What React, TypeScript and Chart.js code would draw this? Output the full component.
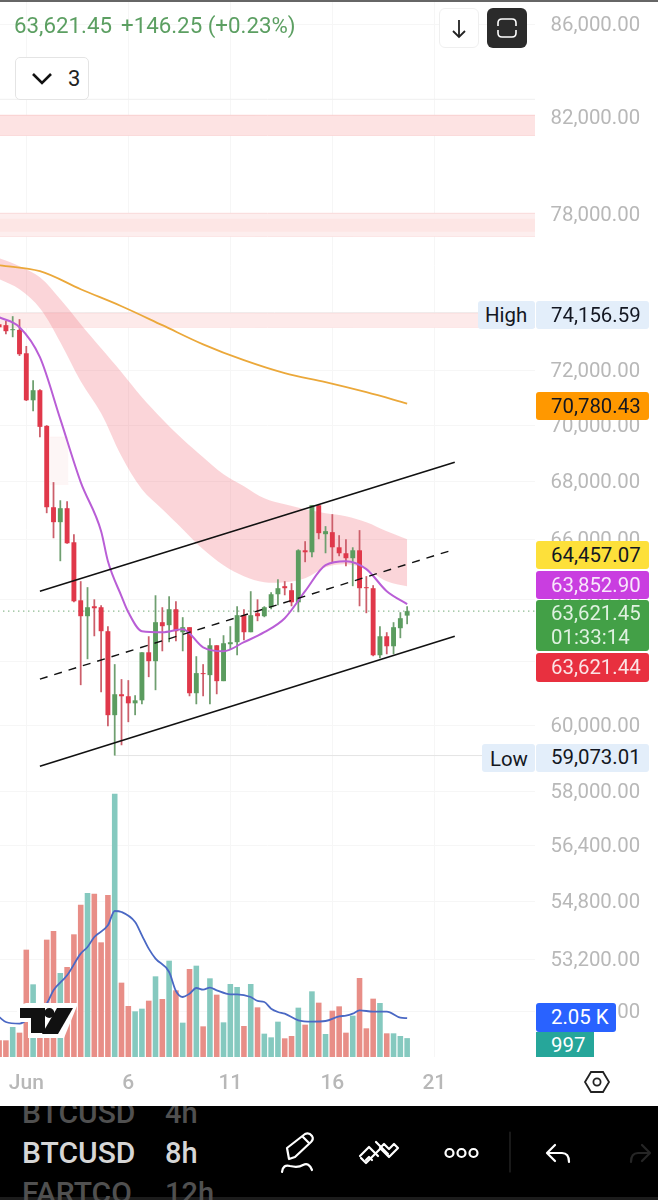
import React, { useEffect, useRef } from "react";
import { Chart, registerables } from "chart.js";

Chart.register(...registerables);

const firstCandle = -4;
const opens = [73725,73687,73497,73508,72631,70898,71266,69973,67109,66596,67075,65912,63976,63456,63781,63749,62969,60311,60963,60900,60680,60773,62291,62007,63261,63164,63684,62936,63099,60995,61628,61564,62516,61374,62549,62614,63489,62936,63554,63456,63749,64176,64442,64309,63911,65641,65574,67178,66186,66255,65742,65541,65374,65641,64409,64375,62196,62806,62484,63066,63475];
const highs = [73875,73850,74028,73914,72902,71635,71300,69998,67980,67349,67315,66186,64608,64409,64009,63814,63131,61912,61438,61406,60932,62291,62806,64142,63749,64109,63944,63424,63099,62165,61912,62744,62516,62839,63131,63781,63684,64276,64009,63781,64242,64675,64608,64542,65674,65948,67178,67212,66460,66870,66152,66016,65742,66324,64775,64475,63131,62936,63261,63586,63781];
const lows = [73497,73345,73232,72532,70873,70502,69566,66904,66049,65274,65860,63911,61248,62070,62806,61026,59972,59073,59387,60095,60311,60650,61501,61090,62323,62614,62646,62323,60900,60650,60900,60650,60963,61374,62386,62196,62679,62936,63294,63424,63684,63814,64142,63781,63586,65241,65408,66016,65541,65241,65441,65108,64442,63781,63554,62165,62102,62228,62228,62744,63196];
const closes = [73611,73459,73535,72595,70898,71266,69937,67109,66596,67075,65878,63944,63456,63749,63716,62969,60311,60963,60900,60680,60773,62291,62007,63261,63131,63684,62969,63099,60995,61628,61596,62516,61374,62581,62614,63489,62936,63489,63456,63749,64176,64375,64375,63911,65641,65574,67178,66221,66289,65742,65541,65374,65641,64375,64375,62196,62806,62484,63099,63391,63621.45];
const volumes = [880,880,1584,1285,5667,3837,2288,6195,6653,4435,4752,6477,8043,8659,8624,6054,8554,13904,3925,2693,2411,2552,2974,4259,3062,5086,3520,1813,4646,4822,1619,4154,3291,1830,3854,3696,1637,3854,2622,1232,1038,1866,986,1109,2605,1707,3467,2869,1214,2446,2675,1285,2182,4171,1514,3080,2851,1250,1250,1109,997];

const volumeAvgX = [-4,-3,-1,1,3,4,6,8,9,10,12,13,14,16,17,18,19,21,22,23,24,25,26,27,28,30,31,33,34,35,36,37,38,40,42,44,46,47,48,49,51,53,55,56];
const volumeAvg = [2112,1848,1760,2288,2816,3520,4312,5456,5808,6336,6952,7709,7656,7128,6424,5720,5192,4488,3485,3168,3344,3643,3555,3661,3520,3309,3309,3168,2957,2904,2552,2376,2288,1936,1866,1901,2147,2182,2288,2464,2394,2394,2077,2050];

const fastMaX = [-4,-1,2,5,8,11,12,14,15,17,20,23,26,29,32,35,38,41,44,47,50,53,56];
const fastMa = [73990,73611,72484,70214,67980,66289,65274,64109,63586,62969,62936,63034,62451,62323,62614,62936,63391,64276,65141,65274,65008,64276,63853];
const slowMaX = [-4,2,8,14,20,26,32,38,44,50,56];
const slowMa = [75993,75759,75059,74407,73687,72966,72373,71893,71561,71192,70780];
const ribbonX = [-4,-1,2,5,8,11,14,17,20,23,26,29,32,35,38,41,44,47,50,53,56];
const ribbonUpper = [76265,75954,75526,74672,73725,72816,71930,71008,70214,69495,68855,68258,67838,67418,67212,67041,66904,66802,66596,66289,66016];
const ribbonLower = [75448,75059,74331,73045,71598,70430,68890,67733,67041,66357,65674,65141,64775,64575,64575,64708,65074,65174,65008,64608,64442];

const channelX = [2, 63];
const channelUpper = [64276, 68680];
const channelMiddle = [61438, 65674];
const channelLower = [58750, 62806];

const zoneX = [-10, 80];
const zone1 = [82073, 81235];
const zone2Outer = [78044, 77128];
const zone2Inner = [77804, 77326];
const zone3 = [74137, 73606];
const smallBoxX = [3.5, 6.2];
const smallBox = [69566, 67910];

const lastPrice = 63621.45;
const highPrice = 74156.59;
const lowPrice = 59073.01;
const topRule = 82750;

const priceTicks = [86000,82000,78000,74000,72000,70000,68000,66000,64000,62000,60000,58000,56400,54800,53200,51800];
const timeTicks = [0, 15, 30, 45, 60];
const timeLabels = ["Jun", "6", "11", "16", "21"];

const FONT = "Roboto, sans-serif";
const UP = "#5b9c5f";
const DOWN = "#e0384a";
const UP_WICK = "#6f9f70";
const DOWN_WICK = "#cc5f6b";
const VOL_UP = "#85c9bf";
const VOL_DOWN = "#e88e87";

const line = (xs: number[], ys: number[]) => xs.map((x, k) => ({ x, y: ys[k] }));
const idx = (k: number) => firstCandle + k;

function App() {
  const ref = useRef<HTMLCanvasElement>(null);
  useEffect(() => {
    const wick = opens.map((_, k) => ({ x: idx(k), y: [lows[k], highs[k]] }));
    const body = opens.map((o, k) => ({ x: idx(k), y: [Math.min(o, closes[k]), Math.max(o, closes[k])] }));
    const up = opens.map((o, k) => closes[k] >= o);
    const lineBase = { type: "line", pointRadius: 0, yAxisID: "y" };
    const band = (xs: number[], pair: number[], fill: string, border: string, order: number) => [
      { ...lineBase, data: line(xs, [pair[0], pair[0]]), borderColor: border, borderWidth: 1, backgroundColor: fill, fill: "+1", order },
      { ...lineBase, data: line(xs, [pair[1], pair[1]]), borderColor: border, borderWidth: 1, fill: false, order },
    ];
    const chart = new Chart(ref.current!, {
      type: "bar",
      data: {
        datasets: [
          ...band(zoneX, zone1, "#fde3e3", "#f9cfcf", 40),
          ...band(zoneX, zone2Outer, "#fdeeee", "#f9dada", 41),
          ...band(zoneX, zone2Inner, "#fde6e5", "#fde6e5", 40),
          ...band(zoneX, zone3, "#fdeaea", "#fbe0e0", 41),
          ...band(smallBoxX, smallBox, "#fdf6f6", "#fdf1f1", 41),
          { ...lineBase, data: line(ribbonX, ribbonUpper), borderWidth: 0, borderColor: "transparent", backgroundColor: "rgba(240,110,125,0.29)", fill: "+1", tension: 0.35, order: 30 },
          { ...lineBase, data: line(ribbonX, ribbonLower), borderWidth: 0, borderColor: "transparent", fill: false, tension: 0.35, order: 30 },
          { ...lineBase, data: line(zoneX, [topRule, topRule]), borderColor: "#efefef", borderWidth: 1, order: 42 },
          { ...lineBase, data: line([-2, 80], [highPrice, highPrice]), borderColor: "#e8e8e8", borderWidth: 1, order: 42 },
          { ...lineBase, data: line([13, 80], [lowPrice, lowPrice]), borderColor: "#e4e4e4", borderWidth: 1, order: 42 },
          { ...lineBase, data: line(zoneX, [lastPrice, lastPrice]), borderColor: "#5f9e63", borderWidth: 1.2, borderDash: [1, 4], order: 25 },
          { type: "bar", yAxisID: "v", grouped: false, categoryPercentage: 1, barPercentage: 0.82, data: volumes.map((v, k) => ({ x: idx(k), y: v })), backgroundColor: up.map((u) => (u ? VOL_UP : VOL_DOWN)), order: 20 },
          { ...lineBase, yAxisID: "v", data: line(volumeAvgX, volumeAvg), borderColor: "#4a68c4", borderWidth: 1.8, cubicInterpolationMode: "monotone", order: 15 },
          { ...lineBase, data: line(slowMaX, slowMa), borderColor: "#eba83a", borderWidth: 1.8, tension: 0.35, order: 10 },
          { type: "bar", yAxisID: "y", grouped: false, categoryPercentage: 1, barPercentage: 0.26, data: wick, backgroundColor: up.map((u) => (u ? UP_WICK : DOWN_WICK)), order: 9 },
          { type: "bar", yAxisID: "y", grouped: false, categoryPercentage: 1, barPercentage: 0.72, data: body, backgroundColor: up.map((u) => (u ? UP : DOWN)), order: 8 },
          { ...lineBase, data: line(fastMaX, fastMa), borderColor: "#b95ed6", borderWidth: 2, cubicInterpolationMode: "monotone", order: 5 },
          { ...lineBase, data: line(channelX, channelUpper), borderColor: "#111", borderWidth: 1.6, order: 3 },
          { ...lineBase, data: line(channelX, channelMiddle), borderColor: "#111", borderWidth: 1.4, borderDash: [8, 7], order: 3 },
          { ...lineBase, data: line(channelX, channelLower), borderColor: "#111", borderWidth: 1.6, order: 3 },
        ] as any,
      },
      options: {
        responsive: false,
        animation: false,
        events: [],
        layout: { autoPadding: false, padding: { top: 2, left: 0, right: 0, bottom: 0 } },
        plugins: { legend: { display: false }, tooltip: { enabled: false }, title: { display: false } },
        scales: {
          x: {
            type: "linear",
            min: -3.868,
            max: 74.8,
            bounds: "data",
            offset: false,
            border: { display: false },
            grid: { color: "#f6f6f6", drawTicks: false, offset: false },
            afterBuildTicks: (s: any) => { s.ticks = timeTicks.map((value) => ({ value })); },
            afterFit: (s: any) => { s.height = 143; s.paddingLeft = 0; s.paddingRight = 0; },
            ticks: {
              autoSkip: false,
              maxRotation: 0,
              padding: 14,
              color: "#b8b8b8",
              font: { family: FONT, size: 21, weight: "500" },
              callback: (v: any) => timeLabels[timeTicks.indexOf(Number(v))] ?? "",
            },
          },
          y: {
            type: "logarithmic",
            position: "right",
            min: 50600,
            max: 86991,
            bounds: "data",
            beginAtZero: false,
            border: { display: false },
            grid: { color: "#f6f6f6", drawTicks: false },
            afterBuildTicks: (s: any) => { s.ticks = priceTicks.map((value) => ({ value })); },
            afterFit: (s: any) => { s.width = 123; s.paddingTop = 0; s.paddingBottom = 0; },
            ticks: {
              autoSkip: false,
              padding: 15.5,
              labelOffset: 1.5,
              crossAlign: "near",
              color: "#b8b8b8",
              font: { family: FONT, size: 20.4 },
              callback: (v: any) => Number(v).toLocaleString("en-US", { minimumFractionDigits: 2, maximumFractionDigits: 2 }),
            },
          },
          v: { type: "linear", position: "right", display: false, min: 0, max: 55700, bounds: "data" },
        },
      } as any,
    });
    return () => chart.destroy();
  }, []);

  const pill = (left: number, top: number, w: number, h: number, bg: string, color: string, text: string, extra: any = {}) => (
    <div
      style={{
        position: "absolute", left, top, width: w, height: h, background: bg, color, borderRadius: 3,
        font: `20.4px ${FONT}`, lineHeight: `${h}px`, paddingLeft: 15, boxSizing: "border-box", whiteSpace: "nowrap", ...extra,
      }}
    >
      {text}
    </div>
  );

  return (
    <div style={{ position: "fixed", left: 0, top: 0, width: 658, height: 1200, overflow: "hidden", background: "#fff", fontFamily: FONT }}>
      <canvas ref={ref} width={658} height={1200} style={{ position: "absolute", left: 0, top: 0, width: 658, height: 1200 }} />
      <div style={{ position: "absolute", left: 0, top: 0, width: 658, height: 1.5, background: "#666" }} />

      <div style={{ position: "absolute", left: 14, top: 11, font: `22.3px ${FONT}`, color: "#5c9f62", whiteSpace: "nowrap", lineHeight: "28px" }}>63,621.45</div>
      <div style={{ position: "absolute", left: 121, top: 11, font: `22.3px ${FONT}`, color: "#5c9f62", whiteSpace: "nowrap", lineHeight: "28px" }}>+146.25 (+0.23%)</div>

      <div style={{ position: "absolute", left: 439, top: 8, width: 40, height: 40, border: "1px solid #efefef", borderRadius: 6, boxSizing: "border-box", background: "#fff" }} />
      <svg style={{ position: "absolute", left: 439, top: 8 }} width={40} height={40} fill="none" stroke="#222" strokeWidth={1.8}>
        <path d="M20 12V29M14 23L20 29L26 23" />
      </svg>
      <div style={{ position: "absolute", left: 487, top: 8, width: 40, height: 40, borderRadius: 6, background: "#2b2b2b" }} />
      <svg style={{ position: "absolute", left: 487, top: 8 }} width={40} height={40} fill="none" stroke="#fff" strokeWidth={1.6}>
        <path d="M11 18V15Q11 11 15 11H25Q29 11 29 15V18M11 22V25Q11 29 15 29H25Q29 29 29 25V22" />
      </svg>

      <div style={{ position: "absolute", left: 15, top: 57, width: 74, height: 43, border: "1px solid #e4e4e4", borderRadius: 5, boxSizing: "border-box", background: "#fff" }} />
      <svg style={{ position: "absolute", left: 30, top: 70 }} width={24} height={18} fill="none" stroke="#111" strokeWidth={2.6}>
        <path d="M3 4L12 13L21 4" />
      </svg>
      <div style={{ position: "absolute", left: 68, top: 65, font: `22px ${FONT}`, lineHeight: "28px", color: "#222" }}>3</div>

      {pill(478, 301, 57, 28, "#e3eefa", "#131722", "High", { paddingLeft: 7 })}
      {pill(536, 301, 113, 28, "#e3eefa", "#131722", "74,156.59")}
      {pill(536, 392, 113, 28, "#ff9800", "#131722", "70,780.43")}
      {pill(536, 541, 113, 28, "#fde03a", "#131722", "64,457.07")}
      {pill(536, 571, 113, 28, "#c93ee0", "#f8e6fb", "63,852.90")}
      <div style={{ position: "absolute", left: 536, top: 600, width: 113, height: 51, background: "#43a047", borderRadius: 3, color: "#dff1e0", font: `20.4px ${FONT}`, lineHeight: "24px", paddingLeft: 15, paddingTop: 1, boxSizing: "border-box" }}>
        <div>63,621.45</div>
        <div>01:33:14</div>
      </div>
      {pill(536, 653, 113, 29, "#e8303f", "#fbe3e5", "63,621.44")}
      {pill(482, 744, 53, 28, "#e3eefa", "#131722", "Low", { paddingLeft: 8, lineHeight: "31px" })}
      {pill(536, 744, 113, 28, "#e3eefa", "#131722", "59,073.01", { lineHeight: "26px" })}
      {pill(536, 1003, 80, 29, "#2962ff", "#fff", "2.05 K")}
      {pill(536, 1032, 58, 25, "#26a69a", "#fff", "997", { borderRadius: 0, lineHeight: "27px" })}

      <svg style={{ position: "absolute", left: 0, top: 1000 }} width={90} height={44}>
        <g transform="translate(0,-1000)" fill="#111">
          <path d="M26 1003H77V1006L64 1038H28V1022H17V1006Z" fill="#fff" />
          <path d="M20 1008H45V1033H31V1018H20Z" />
          <circle cx={49.3} cy={1013} r={5} />
          <path d="M57 1008H73L58 1034H42Z" />
        </g>
      </svg>

      <svg style={{ position: "absolute", left: 580, top: 1066 }} width={34} height={32} fill="none" stroke="#222" strokeWidth={1.8}>
        <path d="M5 16L11 6H23L29 16L23 26H11Z" />
        <circle cx={17} cy={16} r={3.6} />
      </svg>

      <div style={{ position: "absolute", left: 0, top: 1106, width: 658, height: 94, background: "#000", overflow: "hidden" }}>
        <div style={{ position: "absolute", left: 0, top: 91, width: 658, height: 3, background: "#1c1c1c" }} />
        {[
          ["BTCUSD", "4h", -10, "#505050"],
          ["BTCUSD", "8h", 30, "#d6d6d6"],
          ["FARTCO", "12h", 70, "#505050"],
        ].map(([a, b, top, color]: any, k) => (
          <React.Fragment key={k}>
            <div style={{ position: "absolute", left: 22, top, width: 114, height: 34, overflow: "hidden", font: `500 30px ${FONT}`, lineHeight: "34px", color, whiteSpace: "nowrap" }}>{a}</div>
            <div style={{ position: "absolute", left: 165, top, font: `500 29px ${FONT}`, lineHeight: "34px", color, whiteSpace: "nowrap" }}>{b}</div>
          </React.Fragment>
        ))}
        <svg style={{ position: "absolute", left: 0, top: 0 }} width={658} height={94} fill="none" stroke="#fff" strokeWidth={2.2} strokeLinecap="round" strokeLinejoin="round">
          <path d="M289 53L287 42L305 28Q309 26 312 30Q314 33 311 36L295 51Z" />
          <path d="M303 31L309 37" />
          <path d="M282 66Q283 58 290 60Q298 62 303 59Q309 56 312 64" />
          <path d="M360 50L369 41L378 50M366 54L369 51L372 54" />
          <path d="M380 42L389 51L398 42M380 42L384 38L389 43L394 38L398 42" />
          <path d="M361 52L366 57L380 43M376 36L388 48" />
          <circle cx={449.5} cy={47} r={4} />
          <circle cx={461.5} cy={47} r={4} />
          <circle cx={473.5} cy={47} r={4} />
          <path d="M547 47L555 39M547 47L555 55M548 47H562Q569 47 569 56" />
          <path d="M650 47L642 39M650 47L642 55M649 47H638Q631 47 631 56" stroke="#262626" />
          <path d="M510 26V66" stroke="#2a2a2a" strokeWidth={1.2} />
        </svg>
      </div>
    </div>
  );
}

export default App;
